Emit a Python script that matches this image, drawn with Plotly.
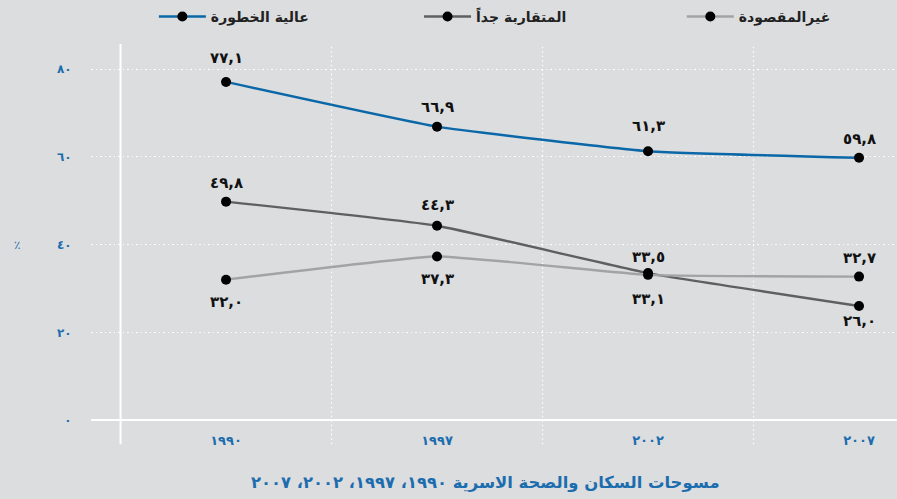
import plotly.graph_objects as go

# Survey years and the three series (percent)
years = ["1990", "1997", "2002", "2007"]
high_risk = [77.1, 66.9, 61.3, 59.8]        # عالية الخطورة
closely_spaced = [49.8, 44.3, 33.5, 26.0]   # المتقاربة جداً
unintended = [32.0, 37.3, 33.1, 32.7]       # غيرالمقصودة
y_ticks = [0, 20, 40, 60, 80]

series_names = ["عالية الخطورة", "المتقاربة جداً", "غيرالمقصودة"]
title_text = "مسوحات السكان والصحة الاسرية ١٩٩٠، ١٩٩٧، ٢٠٠٢، ٢٠٠٧"
percent_label = "٪"

# Styling
BG = "#DCDDDF"
BLUE_TEXT = "#1C6DAE"
line_colors = ["#0A67A8", "#5E5F61", "#A2A3A5"]
# one legend box per series, placed along the top
legend_ids = ["legend", "legend2", "legend3"]
legend_x = [0.078, 0.407, 0.733]
# vertical pixel offset of each value label (positive = above the point)
label_shift = [
    [24, 20, 25, 19],
    [19, 21, 16, -15],
    [-22, -23, -24, 19],
]
FONT = "DejaVu Sans"

AR_DIGITS = str.maketrans("0123456789", "٠١٢٣٤٥٦٧٨٩")


def ar_num(text):
    return str(text).translate(AR_DIGITS)


def ar_value(v):
    return ar_num(f"{v:.1f}".replace(".", ","))


x_idx = list(range(len(years)))
all_series = [high_risk, closely_spaced, unintended]

fig = go.Figure()
for name, vals, color, lg in zip(series_names, all_series, line_colors, legend_ids):
    fig.add_trace(go.Scatter(
        x=x_idx, y=vals, name=name, legend=lg,
        mode="lines+markers",
        line=dict(color=color, width=2.4, shape="spline", smoothing=0.35),
        marker=dict(color="black", size=10),
        hoverinfo="skip",
    ))

# value labels
for vals, shifts in zip(all_series, label_shift):
    for xi, v, s in zip(x_idx, vals, shifts):
        fig.add_annotation(
            x=xi, y=v, text=ar_value(v), showarrow=False,
            yshift=s, xanchor="center", yanchor="middle",
            font=dict(family=FONT, size=15, color="#111111", weight="bold"),
        )

# category boundaries as dotted vertical guides, and the solid axis line
boundaries = [i + 0.5 for i in x_idx[:-1]]
for b in boundaries:
    fig.add_shape(
        type="line", xref="x", yref="y domain",
        x0=b, x1=b, y0=-0.034, y1=1.0,
        line=dict(color="white", width=1.2, dash="1.5px,3px"),
        layer="below",
    )
fig.add_shape(
    type="line", xref="x", yref="y domain",
    x0=x_idx[0] - 0.5, x1=x_idx[0] - 0.5, y0=-0.034, y1=1.0,
    line=dict(color="white", width=2),
    layer="below",
)

# percent sign beside the value axis
fig.add_annotation(
    xref="paper", yref="y", x=-0.098, y=y_ticks[2],
    text=percent_label, showarrow=False,
    font=dict(family=FONT, size=12, color=BLUE_TEXT),
)

# caption under the chart
fig.add_annotation(
    xref="paper", yref="paper", x=0.49, y=-0.134,
    text=title_text, showarrow=False, xanchor="center", yanchor="middle",
    font=dict(family=FONT, size=16.4, color=BLUE_TEXT, weight="bold"),
)

legend_style = dict(
    orientation="h", y=1.07, xanchor="left", yanchor="middle",
    itemwidth=47,
    font=dict(family=FONT, size=14, color="#222222", weight="bold"),
    bgcolor="rgba(0,0,0,0)", itemclick=False, itemdoubleclick=False,
)
legends = {lg: dict(legend_style, x=lx) for lg, lx in zip(legend_ids, legend_x)}

fig.update_layout(
    width=897, height=499,
    margin=dict(l=91, r=0, t=44, b=68, autoexpand=False),
    paper_bgcolor=BG, plot_bgcolor=BG,
    showlegend=True,
    xaxis=dict(
        range=[-0.64, 3.18],
        tickvals=x_idx, ticktext=[ar_num(y) for y in years],
        showgrid=False, zeroline=False, showline=False, ticks="",
        tickfont=dict(family=FONT, size=13, color=BLUE_TEXT, weight="bold"),
        fixedrange=True,
    ),
    yaxis=dict(
        range=[-2.51, 85.75],
        tickvals=y_ticks, ticktext=[ar_num(v) for v in y_ticks],
        showgrid=True, gridcolor="white", gridwidth=1.2, griddash="1.5px,3px",
        zeroline=True, zerolinecolor="white", zerolinewidth=1.6,
        showline=False, ticks="outside", ticklen=16, tickcolor=BG,
        tickfont=dict(family=FONT, size=12, color=BLUE_TEXT, weight="bold"),
        fixedrange=True,
    ),
    **legends,
)

fig.write_html("out.html", config={"displayModeBar": False})
